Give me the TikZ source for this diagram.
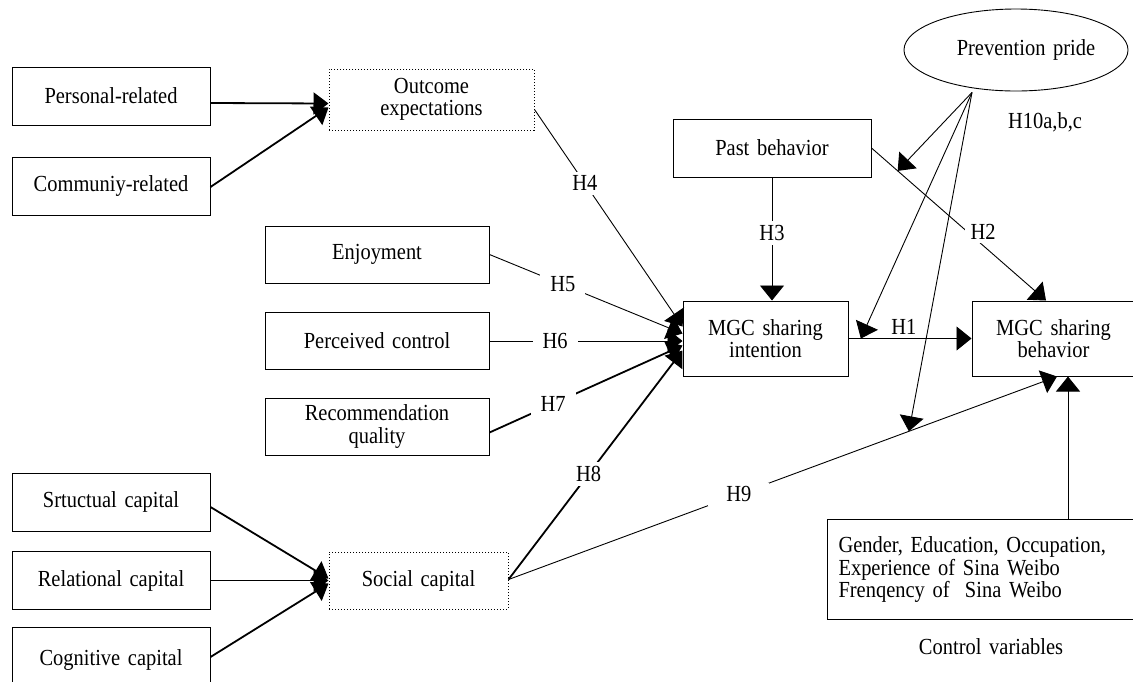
\documentclass[tikz,border=0pt]{standalone}
\usepackage{fontspec}
\setmainfont{Liberation Serif}[FakeStretch=0.89,WordSpace=1.5]
\usetikzlibrary{arrows.meta,calc,shapes.geometric}
\begin{document}
\begin{tikzpicture}[x=1pt,y=-1pt,
  every node/.style={font=\fontsize{23}{22.5}\selectfont},
  basebox/.style={draw,line width=1pt,inner sep=0pt,align=center},
  lbox/.style={basebox,minimum width=198pt,minimum height=58pt},
  mbox/.style={basebox,minimum width=224pt,minimum height=57pt},
  dbox/.style={basebox,dash pattern=on 1.2pt off 1.8pt},
  lab/.style={fill=white,inner xsep=10pt,inner ysep=4pt},
  arr/.style={-{Triangle[length=15pt,width=24pt]},line width=0.9pt},
  tharr/.style={-{Triangle[length=15pt,width=22pt]},line width=1.8pt}
]
\clip (0,0) rectangle (1133,681);
\fill[white] (0,0) rectangle (1133,681);
% left column
\node[lbox] (pers) at (111,96) {Personal-related};
\node[lbox] (comm) at (111,186) {Communiy-related};
\node[dbox,minimum width=205pt,minimum height=61pt] (outc) at (431.5,99.5) {Outcome\\expectations};
\node[mbox] (enj) at (377,254.5) {Enjoyment};
\node[mbox] (perc) at (377,341) {Perceived control};
\node[mbox] (reco) at (377,426.5) {Recommendation\\quality};
\node[lbox] (strc) at (111,502) {Srtuctual capital};
\node[lbox] (rel) at (111,580.5) {Relational capital};
\node[lbox,minimum height=66pt] (cog) at (111,660) {Cognitive capital};
\node[dbox,minimum width=179pt,minimum height=57pt] (soc) at (418.5,580.5) {Social capital};
% right part
\node[lbox] (pb) at (772,148) {Past behavior};
\node[draw,line width=0.9pt,ellipse,inner sep=0pt,minimum width=211pt,minimum height=82pt] (pride) at (1016,50) {\hspace{20pt}Prevention pride};
\node (h10) at (1045,122) {H10a,b,c};
\node[basebox,minimum width=165pt,minimum height=75pt] (mi) at (765.5,338.5) {MGC sharing\\intention};
\node[basebox,minimum width=163pt,minimum height=75pt] (mb) at (1053.5,338.5) {MGC sharing\\behavior};
\node[basebox,anchor=north west,align=left,text width=290pt,inner xsep=11pt,minimum height=100pt] (ctrl) at (827,519) {Gender, Education, Occupation,\\Experience of Sina Weibo\\Frenqency of \ Sina Weibo};
\node (ctrllab) at (991,647) {Control variables};
% connectors into outcome expectations
\draw[tharr] ($(pers.east)+(0,7)$) -- ($(outc.west)+(0,4)$);
\draw[tharr] ($(comm.east)+(0,1)$) -- ($(outc.west)+(0,8)$);
% connectors into social capital
\draw[tharr] ($(strc.east)+(0,5)$) -- ($(soc.west)+(0,-2)$);
\draw[tharr] (rel.east) -- (soc.west);
\draw[tharr] ($(cog.east)+(0,-3)$) -- ($(soc.west)+(0,3)$);
% into intention
\draw[arr] ($(outc.east)+(0,10)$) -- node[lab,pos=0.34]{H4} ($(mi.west)+(0,-12)$);
\draw[arr] (enj.east) -- node[lab,pos=0.38]{H5} ($(mi.west)+(0,-5)$);
\draw[arr] (perc.east) -- node[lab,pos=0.34]{H6} ($(mi.west)+(0,2.5)$);
\draw[tharr] ($(reco.east)+(0,6)$) -- node[lab,pos=0.33]{H7} ($(mi.west)+(0,7)$);
\draw[tharr] ($(soc.east)+(0,-1)$) -- node[lab,pos=0.46]{H8} ($(mi.west)+(0,12)$);
\draw[arr] (pb.south) -- node[lab,pos=0.45,inner xsep=4pt]{H3} (pb.south |- mi.north);
% into behavior
\draw[arr] (pb.east) -- coordinate[pos=0.15] (m2) node[lab,pos=0.6,xshift=7pt,yshift=8pt,inner xsep=6pt]{H2} ($(mb.north)+(-7.5,0)$);
\draw[arr] (mi.east) -- coordinate[pos=0.1] (m1) node[above=3pt,pos=0.45,inner sep=1pt]{H1} (mb.west);
\draw[arr] ($(soc.east)+(0,-1)$) -- coordinate[pos=0.73] (m3) node[lab,pos=0.42,inner xsep=18pt]{H9} ($(mb.south)+(3.5,0)$);
\draw[arr] ($(ctrl.north west)+(241,0)$) -- ($(mb.south)+(14.5,0)$);
% moderation by prevention pride
\coordinate (pp) at ($(pride.south)+(-44,1)$);
\draw[arr] (pp) -- (m2);
\draw[arr] (pp) -- (m1);
\draw[arr] (pp) -- (m3);
\end{tikzpicture}
\end{document}
